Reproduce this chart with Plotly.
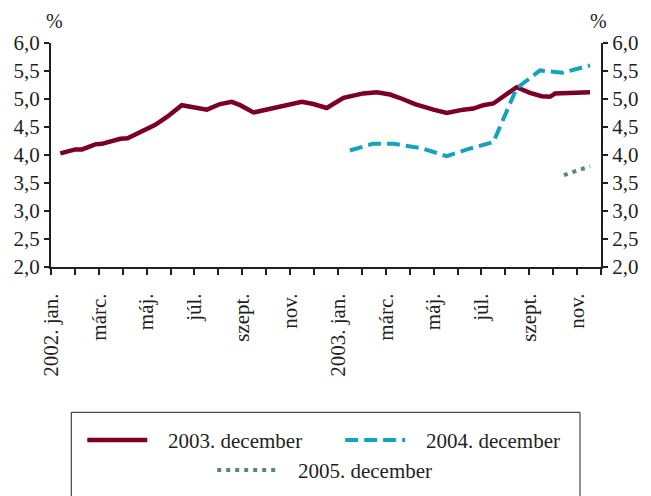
import plotly.graph_objects as go

# x positions are in months: 0 = 2002 jan, 23 = 2003 dec
month_labels = ["2002. jan.", "", "márc.", "", "máj.", "", "júl.", "", "szept.", "", "nov.", "",
                "2003. jan.", "", "márc.", "", "máj.", "", "júl.", "", "szept.", "", "nov.", ""]

dec2003_x = [0.39, 0.67, 1.02, 1.30, 1.85, 2.13, 2.90, 3.20, 3.73, 4.36, 4.85, 5.47, 6.52, 7.07,
             7.56, 7.91, 8.47, 9.30, 9.93, 10.49, 10.97, 11.53, 12.23, 13.06, 13.62, 14.18, 14.70,
             15.22, 15.99, 16.55, 17.24, 17.66, 18.08, 18.50, 19.47, 20.03, 20.52, 20.87, 21.08,
             21.92, 22.12, 22.54]
dec2003_y = [4.03, 4.06, 4.10, 4.10, 4.19, 4.20, 4.29, 4.30, 4.41, 4.54, 4.68, 4.89, 4.81, 4.91,
             4.95, 4.89, 4.76, 4.83, 4.89, 4.95, 4.91, 4.84, 5.02, 5.10, 5.12, 5.08, 5.00,
             4.91, 4.81, 4.75, 4.81, 4.83, 4.89, 4.92, 5.21, 5.11, 5.05, 5.04, 5.10,
             5.10, 5.12, 5.12]

dec2004_x = [12.5, 13.45, 14.35, 15.5, 16.55, 17.4, 18.5, 19.47, 20.45, 21.4, 22.54]
dec2004_y = [4.08, 4.20, 4.20, 4.12, 3.98, 4.10, 4.23, 5.19, 5.51, 5.47, 5.60]

dec2005_x = [21.45, 22.54]
dec2005_y = [3.64, 3.80]

RED = "#7c0024"
BLUE = "#13a3be"
GREEN = "#568c6e"
INK = "#231f20"
FONT = "Liberation Serif"
FS = 21

fig = go.Figure()
fig.add_trace(go.Scatter(x=dec2003_x, y=dec2003_y, mode="lines", name="   2003. december",
                         line=dict(color=RED, width=4.5), legend="legend"))
fig.add_trace(go.Scatter(x=dec2004_x, y=dec2004_y, mode="lines", name="   2004. december",
                         line=dict(color=BLUE, width=4, dash="13px,6px"), legend="legend2"))
fig.add_trace(go.Scatter(x=dec2005_x, y=dec2005_y, mode="lines", name="   2005. december",
                         line=dict(color=GREEN, width=4, dash="4px,5px"), legend="legend3",
                         yaxis="y2"))

# the page body has an 8px margin, so the figure sits 8px in from the window corner
OFF = 8
W, H = 651, 496
L, T = 50.7 - OFF, 42.7 - OFF
pw, ph = 550.3, 224.0
R, B = W - L - pw, H - T - ph


def px(x):
    return (x - OFF - L) / pw


def py(y):
    return (T + ph + OFF - y) / ph


yticks = [2.0 + 0.5 * i for i in range(9)]
ytext = [f"{v:.1f}".replace(".", ",") for v in yticks]
axis_common = dict(range=[2, 6], tickvals=yticks, ticktext=ytext, showline=True, linecolor=INK,
                   linewidth=2, ticks="outside", ticklen=5, tickwidth=2, tickcolor=INK,
                   showgrid=False, zeroline=False, fixedrange=True, tickfont=dict(size=FS))

leg = dict(xanchor="left", yanchor="middle", orientation="h", itemwidth=60,
           bgcolor="rgba(0,0,0,0)", font=dict(size=FS))

fig.update_layout(
    width=W, height=H,
    margin=dict(l=L, r=R, t=T, b=B, autoexpand=False),
    paper_bgcolor="white", plot_bgcolor="white",
    font=dict(family=FONT, size=FS, color=INK),
    showlegend=True,
    xaxis=dict(range=[0, 23], tickvals=list(range(24)), ticktext=month_labels, tickangle=-90,
               showline=True, linecolor=INK, linewidth=2, ticks="outside", ticklen=6, tickwidth=2,
               tickcolor=INK, showgrid=False, zeroline=False, ticklabelstandoff=10,
               tickfont=dict(size=FS)),
    yaxis=dict(**axis_common),
    yaxis2=dict(**axis_common, overlaying="y", side="right"),
    legend=dict(x=px(82), y=py(440), **leg),
    legend2=dict(x=px(340), y=py(440), **leg),
    legend3=dict(x=px(212), y=py(470), **leg),
    shapes=[dict(type="rect", xref="paper", yref="paper", x0=px(71), x1=px(580),
                 y0=py(505), y1=py(412), line=dict(color=INK, width=1))],
    annotations=[
        dict(text="%", xref="paper", yref="paper", x=px(54), y=py(21), showarrow=False,
             xanchor="center", yanchor="middle", font=dict(size=20)),
        dict(text="%", xref="paper", yref="paper", x=px(598), y=py(21), showarrow=False,
             xanchor="center", yanchor="middle", font=dict(size=20)),
    ],
)

fig.write_html("out.html")
